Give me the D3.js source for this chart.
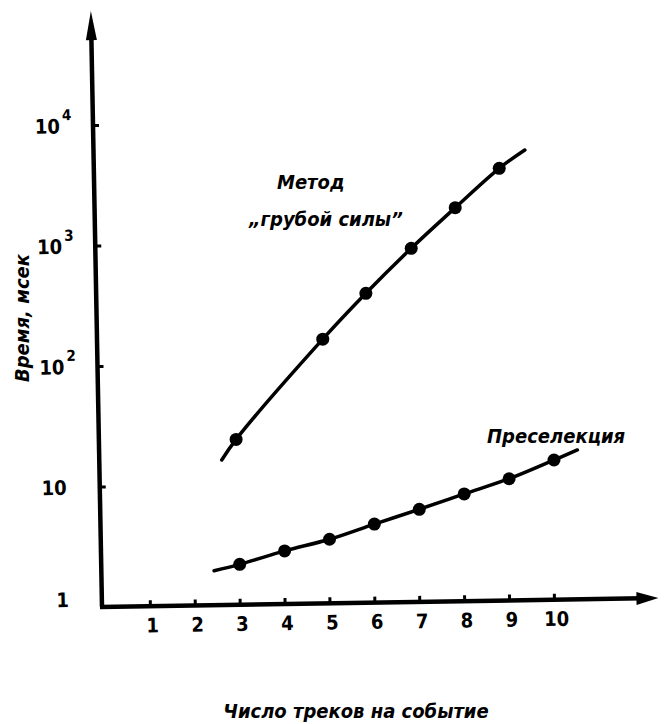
<!DOCTYPE html>
<html>
<head>
<meta charset="utf-8">
<script src="https://cdn.jsdelivr.net/npm/d3@7"></script>
<style>
  body { margin: 0; background: #fff; }
  svg { display: block; }
</style>
</head>
<body>
<div id="chart"></div>
<script>
const width = 664;
const height = 724;

// ------------------
// data
// ------------------

// "Преселекция" : points
const preselTracks = [3, 4, 5, 6, 7, 8, 9, 10];
const preselTime = [2.26, 2.92, 3.65, 4.88, 6.47, 8.67, 11.6, 16.6];
// its drawn curve runs a bit past the first and last point
const preselCurveTracks = [2.43, 3, 4, 5, 6, 7, 8, 9, 10, 10.52];
const preselCurveTime = [2.0, 2.26, 2.92, 3.65, 4.88, 6.47, 8.67, 11.6, 16.6, 20.1];

// "Метод грубой силы" : points
const bruteTracks = [2.92, 4.85, 5.81, 6.82, 7.8, 8.78];
const bruteTime = [24.6, 167, 401, 948, 2060, 4370];
const bruteCurveTracks = [2.6, 2.92, 4.85, 5.81, 6.82, 7.8, 8.78, 9.35];
const bruteCurveTime = [16.6, 24.6, 167, 401, 948, 2060, 4370, 6200];

const xTicks = [1, 2, 3, 4, 5, 6, 7, 8, 9, 10];
const yTicks = [1, 10, 100, 1000, 10000];
const yTickBase = ["1", "10", "10", "10", "10"];
const yTickPow = ["", "", "2", "3", "4"];

const xTitle = "Число треков на событие";
const yTitle = "Время, мсек";

// ------------------
// scales
// ------------------

const x0 = 105;
const y0 = 607;

const x = d3.scaleLinear()
    .domain([0, 12.35])
    .range([x0, x0 + 44.9 * 12.35]);

const y = d3.scaleLog()
    .domain([1, Math.pow(10, 4.9)])
    .range([y0, y0 - 120.5 * 4.9]);

const numFont = "'DejaVu Sans Condensed', 'DejaVu Sans', sans-serif";
const txtFont = "'DejaVu Sans Condensed', 'DejaVu Sans', sans-serif";

const svg = d3.select("#chart")
    .append("svg")
    .attr("width", width)
    .attr("height", height);

svg.append("rect")
    .attr("width", width)
    .attr("height", height)
    .attr("fill", "#fff");

// ------------------
// axe X (hand drawn, slightly tilted)
// ------------------

const gx = svg.append("g")
    .attr("transform", `rotate(-0.92, 102, ${y0}) translate(0, ${y0})`);

gx.call(d3.axisBottom(x)
    .tickValues(xTicks)
    .tickSizeInner(-6)
    .tickSizeOuter(0)
    .tickPadding(12)
    .tickFormat(d3.format("d")));

gx.select(".domain").remove();
gx.selectAll(".tick line")
    .attr("stroke", "#000")
    .attr("stroke-width", 3);
gx.selectAll(".tick text")
    .attr("dx", 2)
    .attr("fill", "#000")
    .style("font-family", numFont)
    .style("font-weight", "bold")
    .style("font-size", "20px");

gx.append("line")
    .attr("x1", 100)
    .attr("x2", x.range()[1] - 18)
    .attr("stroke", "#000")
    .attr("stroke-width", 4.5);

gx.append("path")
    .attr("d", `M${x.range()[1] - 23},-6.5 L${x.range()[1] - 1},0 L${x.range()[1] - 23},6.5 Z`)
    .attr("fill", "#000");

// ------------------
// axe Y (log)
// ------------------

const gy = svg.append("g")
    .attr("transform", `rotate(-1.07, 102, ${y0}) translate(102, 0)`);

gy.call(d3.axisLeft(y)
    .tickValues(yTicks)
    .tickSizeInner(-6)
    .tickSizeOuter(0)
    .tickFormat(""));

gy.select(".domain").remove();
gy.selectAll(".tick line")
    .attr("stroke", "#000")
    .attr("stroke-width", 3);

gy.selectAll(".tick").each(function(d, i) {
    const t = d3.select(this);
    t.select("text").remove();

    t.append("text")
        .attr("x", -33)
        .attr("dy", i === 0 ? "-0.05em" : "0.36em")
        .attr("text-anchor", "end")
        .attr("fill", "#000")
        .style("font-family", numFont)
        .style("font-weight", "bold")
        .style("font-size", "20px")
        .text(yTickBase[i]);

    if (yTickPow[i]) {
        t.append("text")
            .attr("x", -31)
            .attr("y", -6)
            .attr("text-anchor", "start")
            .attr("fill", "#000")
            .style("font-family", numFont)
            .style("font-weight", "bold")
            .style("font-size", "15px")
            .text(yTickPow[i]);
    }
});

gy.append("line")
    .attr("y1", y0)
    .attr("y2", 34)
    .attr("stroke", "#000")
    .attr("stroke-width", 4.5);

gy.append("path")
    .attr("d", "M-5.5,40 L0,11 L5.5,40 Z")
    .attr("fill", "#000");

// ------------------
// titres
// ------------------

svg.append("text")
    .attr("x", 356)
    .attr("y", 718)
    .attr("text-anchor", "middle")
    .attr("fill", "#000")
    .style("font-family", txtFont)
    .style("font-weight", "bold")
    .style("font-style", "italic")
    .style("font-size", "20px")
    .text(xTitle);

svg.append("text")
    .attr("transform", "translate(29, 318) rotate(-90)")
    .attr("text-anchor", "middle")
    .attr("fill", "#000")
    .style("font-family", txtFont)
    .style("font-weight", "bold")
    .style("font-style", "italic")
    .style("font-size", "20px")
    .text(yTitle);

// ------------------
// courbes
// ------------------

const line = d3.line()
    .x(d => x(d[0]))
    .y(d => y(d[1]))
    .curve(d3.curveCatmullRom.alpha(0.5));

const series = [
    { curve: d3.zip(bruteCurveTracks, bruteCurveTime), pts: d3.zip(bruteTracks, bruteTime) },
    { curve: d3.zip(preselCurveTracks, preselCurveTime), pts: d3.zip(preselTracks, preselTime) }
];

series.forEach(s => {
    svg.append("path")
        .attr("d", line(s.curve))
        .attr("fill", "none")
        .attr("stroke", "#000")
        .attr("stroke-width", 3.5)
        .attr("stroke-linecap", "round");

    svg.selectAll(null)
        .data(s.pts)
        .enter()
        .append("circle")
        .attr("cx", d => x(d[0]))
        .attr("cy", d => y(d[1]))
        .attr("r", 6.5)
        .attr("fill", "#000");
});

// ------------------
// étiquettes des courbes
// ------------------

const labelStyle = sel => sel
    .attr("fill", "#000")
    .style("font-family", txtFont)
    .style("font-weight", "bold")
    .style("font-style", "italic")
    .style("font-size", "20px");

svg.append("text")
    .attr("x", 277)
    .attr("y", 189)
    .call(labelStyle)
    .text("Метод");

svg.append("text")
    .attr("x", 249)
    .attr("y", 226)
    .call(labelStyle)
    .text("„грубой силы\u201D");

svg.append("text")
    .attr("x", 487)
    .attr("y", 443)
    .call(labelStyle)
    .text("Преселекция");
</script>
</body>
</html>
